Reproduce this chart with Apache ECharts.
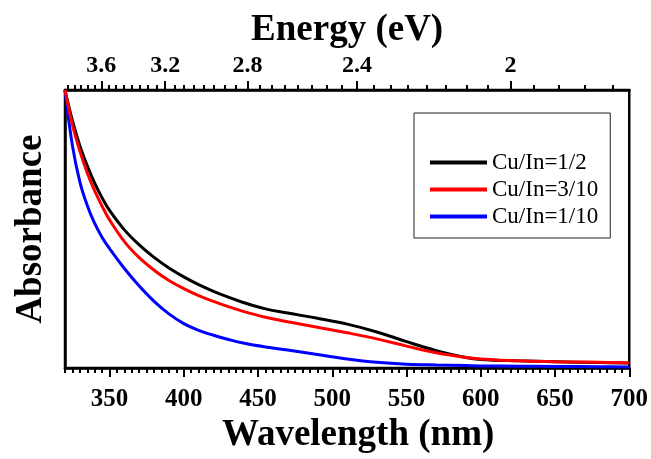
<!DOCTYPE html>
<html>
<head>
<meta charset="utf-8">
<script src="https://cdn.jsdelivr.net/npm/echarts@6/dist/echarts.min.js"></script>
<style>
  html, body { margin: 0; padding: 0; background: #fff; }
  #chart { width: 651px; height: 459px; }
</style>
</head>
<body>
<div id="chart"></div>
<script>
// wavelength grid (nm) and absorbance (arb. units, 0..1)
const wavelengths = [320, 325, 330, 335, 340, 345, 350, 360, 370, 380, 390, 400, 410, 420, 430, 440, 455, 470, 490, 510, 530, 550, 570, 590, 600, 625, 650, 680, 700]
const absHalf = [1.0, 0.89, 0.80, 0.727, 0.665, 0.612, 0.567, 0.497, 0.443, 0.398, 0.36, 0.328, 0.3, 0.276, 0.255, 0.236, 0.213, 0.198, 0.179, 0.158, 0.13, 0.095, 0.063, 0.038, 0.031, 0.026, 0.023, 0.02, 0.018]
const absThreeTenth = [1.0, 0.875, 0.78, 0.702, 0.637, 0.582, 0.533, 0.455, 0.397, 0.352, 0.315, 0.286, 0.261, 0.24, 0.221, 0.204, 0.183, 0.167, 0.147, 0.127, 0.105, 0.079, 0.055, 0.038, 0.033, 0.026, 0.023, 0.021, 0.018]
const absTenth = [1.0, 0.80, 0.67, 0.585, 0.52, 0.47, 0.43, 0.358, 0.295, 0.24, 0.195, 0.16, 0.136, 0.118, 0.103, 0.09, 0.076, 0.065, 0.049, 0.033, 0.021, 0.014, 0.011, 0.009, 0.008, 0.007, 0.006, 0.005, 0.004]

const seriesNames = ["Cu/In=1/2", "Cu/In=3/10", "Cu/In=1/10"]

// bottom axis ticks (nm)
const wlMajor = [350, 400, 450, 500, 550, 600, 650, 700]
const wlMinor = []
for (let w = 320; w <= 700; w += 5) wlMinor.push(w)

// top axis ticks (eV), placed at lambda = 1240 / E
const eMajor = [3.6, 3.2, 2.8, 2.4, 2.0]
const eMajorLabels = ["3.6", "3.2", "2.8", "2.4", "2"]
const eMinor = []
for (let e = 3.85; e >= 1.79; e -= 0.05) eMinor.push(Math.round(e * 100) / 100)

const HC = 1240
const serif = "'Liberation Serif', 'Times New Roman', serif"
const axisColor = "#000"

function pairs(values) {
  return wavelengths.map((w, i) => [w, values[i]])
}

function energyLabel(v) {
  let best = 0
  eMajor.forEach((e, i) => {
    if (Math.abs(HC / e - v) < Math.abs(HC / eMajor[best] - v)) best = i
  })
  return eMajorLabels[best]
}

const baseX = {type: "value", min: 320, max: 700, splitLine: {show: false}}

const chart = echarts.init(document.getElementById("chart"))
chart.setOption({
  animation: false,
  grid: {
    left: 65, right: 20, top: 90, bottom: 86,
    show: true, borderColor: axisColor, borderWidth: 2.5,
  },
  legend: {
    data: seriesNames,
    orient: "vertical",
    left: 414, top: 113,
    padding: [38, 12, 10, 16],
    itemGap: 4,
    itemWidth: 57,
    itemHeight: 4,
    icon: "rect",
    backgroundColor: "#fff",
    borderColor: "#222",
    borderWidth: 1,
    textStyle: {fontFamily: serif, fontSize: 23, color: "#000", lineHeight: 23},
  },
  xAxis: [
    {
      ...baseX,
      position: "bottom",
      name: "Wavelength (nm)",
      nameLocation: "middle",
      nameGap: 40,
      nameTextStyle: {fontFamily: serif, fontSize: 37, fontWeight: "bold", color: "#000", padding: [0, 0, 0, 22]},
      axisLine: {lineStyle: {color: axisColor, width: 2.5}},
      axisTick: {customValues: wlMajor, length: 9, lineStyle: {color: axisColor, width: 2}},
      axisLabel: {customValues: wlMajor, margin: 19, fontFamily: serif, fontSize: 25, fontWeight: "bold", color: "#000"},
    },
    {
      ...baseX,
      position: "top",
      name: "Energy (eV)",
      nameLocation: "middle",
      nameGap: 40,
      nameTextStyle: {fontFamily: serif, fontSize: 37, fontWeight: "bold", color: "#000"},
      axisLine: {lineStyle: {color: axisColor, width: 2.5}},
      axisTick: {customValues: eMajor.map(e => HC / e), length: 9, lineStyle: {color: axisColor, width: 2}},
      axisLabel: {
        customValues: eMajor.map(e => HC / e),
        formatter: energyLabel,
        margin: 12, fontFamily: serif, fontSize: 24, fontWeight: "bold", color: "#000",
      },
    },
    {
      ...baseX,
      position: "bottom",
      axisLine: {show: false},
      axisLabel: {show: false},
      axisTick: {customValues: wlMinor, length: 5, lineStyle: {color: axisColor, width: 2}},
    },
    {
      ...baseX,
      position: "top",
      axisLine: {show: false},
      axisLabel: {show: false},
      axisTick: {customValues: eMinor.map(e => HC / e), length: 5, lineStyle: {color: axisColor, width: 2}},
    },
  ],
  yAxis: {
    type: "value",
    min: 0,
    max: 1,
    name: "Absorbance",
    nameLocation: "middle",
    nameGap: 15,
    nameTextStyle: {fontFamily: serif, fontSize: 37, fontWeight: "bold", color: "#000"},
    axisLine: {show: true, lineStyle: {color: axisColor, width: 2.5}},
    axisTick: {show: false},
    axisLabel: {show: false},
    splitLine: {show: false},
  },
  series: [
    {name: seriesNames[0], data: pairs(absHalf), color: "#000000"},
    {name: seriesNames[2], data: pairs(absTenth), color: "#0000ff"},
    {name: seriesNames[1], data: pairs(absThreeTenth), color: "#ff0000"},
  ].map(s => ({
    ...s,
    type: "line",
    showSymbol: false,
    smooth: 0.4,
    lineStyle: {width: 3},
  })),
})
</script>
</body>
</html>
